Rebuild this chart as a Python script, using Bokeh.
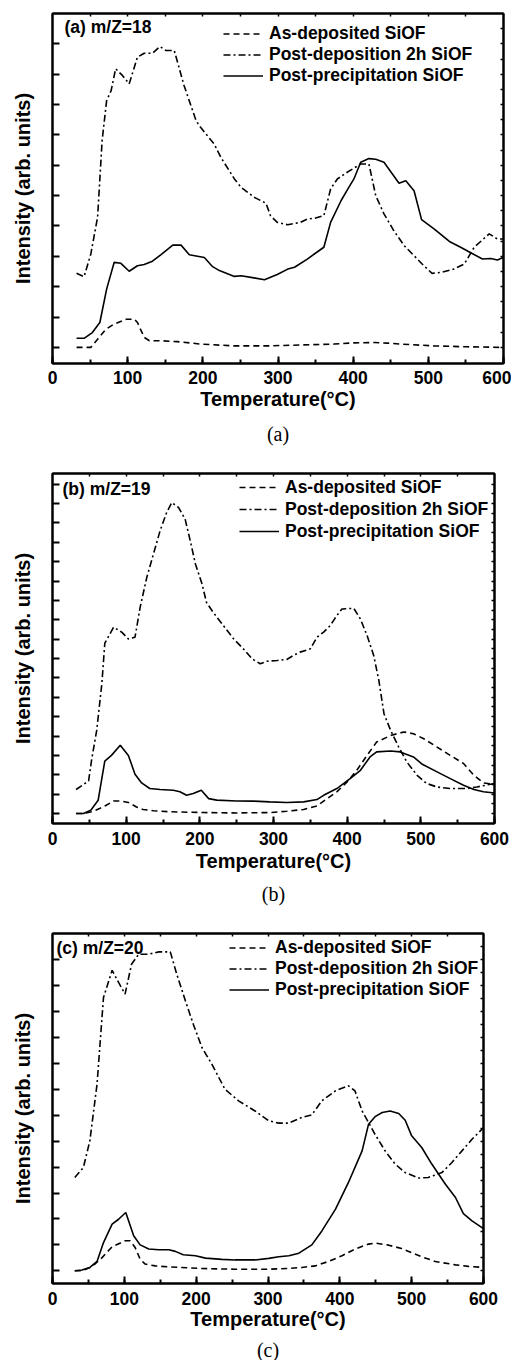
import math
from bokeh.plotting import figure
from bokeh.models import Range1d, LinearAxis, SingleIntervalTicker, FixedTicker, Legend, LegendItem, Label, Title
from bokeh.layouts import column
from bokeh.embed import file_html
from bokeh.resources import INLINE

# ---------------- data ----------------
X_TICK_INTERVAL = 100
LEGEND_LABELS = ["As-deposited SiOF", "Post-deposition 2h SiOF", "Post-precipitation SiOF"]
PANEL_TAGS = ["(a) m/Z=18", "(b) m/Z=19", "(c) m/Z=20"]
CAPTIONS = ["(a)", "(b)", "(c)"]
X_LABEL = "Temperature(°C)"
Y_LABEL = "Intensity (arb. units)"

# panel (a) m/Z=18
a_dep_T = [32, 51, 60, 71, 82, 98, 109, 113, 122, 129, 144, 166, 197, 242, 286, 330, 375, 401, 428, 446, 463, 508, 552, 600]
a_dep_I = [0, 0, 0.27, 0.6, 0.77, 0.93, 0.93, 0.82, 0.33, 0.22, 0.22, 0.19, 0.11, 0.05, 0.05, 0.08, 0.11, 0.15, 0.16, 0.14, 0.11, 0.05, 0.02, 0]
a_post_T = [32, 42, 51, 60, 66, 72, 78, 84, 93, 102, 113, 122, 133, 143, 151, 162, 175, 191, 197, 215, 224, 242, 251, 268, 284, 290, 299, 313, 330, 339, 350, 361, 370, 379, 392, 410, 421, 430, 441, 454, 468, 481, 494, 505, 517, 534, 548, 561, 581, 592, 600]
a_post_I = [2.44, 2.33, 3.08, 4.29, 6.81, 8.13, 8.46, 9.18, 8.96, 8.68, 9.56, 9.69, 9.69, 9.91, 9.78, 9.78, 8.63, 7.47, 7.25, 6.70, 6.26, 5.55, 5.27, 4.95, 4.75, 4.34, 4.12, 4.04, 4.12, 4.23, 4.26, 4.34, 5.22, 5.55, 5.77, 6.04, 6.04, 5.00, 4.40, 3.85, 3.35, 3.02, 2.69, 2.44, 2.47, 2.58, 2.75, 3.30, 3.74, 3.57, 3.57]
a_prec_T = [32, 42, 53, 63, 72, 82, 91, 102, 113, 122, 133, 144, 160, 171, 182, 202, 213, 222, 242, 251, 268, 282, 299, 313, 322, 339, 353, 361, 370, 384, 393, 401, 410, 421, 430, 441, 461, 470, 481, 491, 508, 528, 543, 557, 572, 583, 592, 600]
a_prec_I = [0.30, 0.30, 0.49, 0.82, 1.92, 2.80, 2.77, 2.51, 2.69, 2.73, 2.84, 3.05, 3.37, 3.37, 3.05, 2.96, 2.66, 2.53, 2.34, 2.36, 2.29, 2.23, 2.40, 2.58, 2.64, 2.91, 3.16, 3.30, 4.12, 4.84, 5.22, 5.55, 6.10, 6.22, 6.20, 6.10, 5.41, 5.49, 5.16, 4.21, 3.90, 3.49, 3.30, 3.11, 2.91, 2.93, 2.88, 2.97]

# panel (b) m/Z=19
b_dep_T = [32, 42, 53, 64, 73, 83, 92, 103, 114, 123, 137, 160, 205, 250, 295, 318, 341, 359, 373, 386, 400, 413, 427, 440, 459, 477, 490, 504, 522, 540, 558, 572, 585, 600]
b_dep_I = [0, 0, 0.09, 0.26, 0.43, 0.65, 0.65, 0.57, 0.34, 0.21, 0.14, 0.09, 0.05, 0.03, 0.05, 0.12, 0.21, 0.39, 0.77, 1.12, 1.63, 2.23, 3.00, 3.69, 4.03, 4.21, 4.12, 3.86, 3.43, 3.00, 2.58, 1.97, 1.58, 1.51]
b_post_T = [32, 49, 53, 60, 67, 71, 83, 94, 103, 112, 119, 128, 137, 146, 155, 162, 171, 180, 187, 194, 203, 209, 218, 232, 246, 259, 271, 282, 291, 305, 318, 327, 336, 350, 359, 368, 377, 386, 393, 409, 418, 427, 436, 443, 450, 459, 470, 481, 495, 508, 522, 540, 563, 576, 600]
b_post_I = [1.24, 1.68, 2.75, 4.29, 6.70, 8.79, 9.62, 9.36, 9.01, 9.10, 10.65, 12.19, 13.39, 14.59, 15.54, 16.05, 15.80, 15.20, 14.08, 12.88, 11.85, 10.90, 10.39, 9.70, 9.01, 8.50, 7.98, 7.73, 7.86, 7.90, 7.95, 8.16, 8.33, 8.50, 9.10, 9.36, 9.70, 10.22, 10.56, 10.59, 10.04, 9.19, 8.16, 6.87, 5.15, 4.29, 3.43, 2.66, 1.97, 1.55, 1.37, 1.29, 1.29, 1.37, 1.55]
b_prec_T = [32, 42, 52, 62, 71, 80, 92, 103, 112, 121, 132, 146, 164, 173, 182, 191, 202, 212, 223, 250, 273, 295, 318, 341, 359, 368, 386, 404, 418, 431, 440, 459, 472, 490, 502, 522, 540, 558, 572, 585, 600]
b_prec_I = [0, 0, 0.17, 0.69, 2.71, 3.00, 3.52, 3.00, 2.03, 1.58, 1.29, 1.24, 1.20, 1.12, 0.94, 1.03, 1.20, 0.77, 0.69, 0.65, 0.64, 0.60, 0.57, 0.60, 0.72, 0.94, 1.29, 1.80, 2.23, 2.92, 3.18, 3.23, 3.18, 2.92, 2.54, 2.15, 1.80, 1.46, 1.24, 1.12, 1.06]

# panel (c) m/Z=20
c_dep_T = [31, 41, 52, 59, 69, 83, 101, 108, 115, 122, 129, 143, 162, 208, 254, 301, 329, 347, 366, 384, 403, 421, 440, 449, 468, 486, 514, 533, 561, 579, 600]
c_dep_I = [0, 0, 0.13, 0.26, 0.51, 0.93, 1.16, 1.16, 0.90, 0.45, 0.26, 0.19, 0.15, 0.09, 0.06, 0.06, 0.09, 0.13, 0.19, 0.36, 0.58, 0.84, 1.03, 1.07, 0.99, 0.86, 0.54, 0.36, 0.23, 0.17, 0.13]
c_post_T = [31, 43, 52, 62, 71, 83, 92, 101, 110, 120, 134, 148, 164, 173, 185, 196, 208, 222, 240, 259, 282, 301, 315, 329, 347, 361, 375, 394, 412, 421, 431, 440, 449, 463, 477, 491, 510, 523, 542, 556, 570, 584, 598]
c_post_I = [3.60, 3.99, 5.02, 7.20, 10.55, 11.60, 11.13, 10.68, 11.83, 12.22, 12.22, 12.31, 12.31, 11.45, 10.42, 9.52, 8.62, 7.97, 7.01, 6.56, 6.17, 5.79, 5.70, 5.70, 5.92, 6.02, 6.56, 6.95, 7.14, 6.95, 6.17, 5.72, 5.27, 4.63, 4.12, 3.79, 3.58, 3.60, 3.79, 4.18, 4.63, 5.08, 5.47]
c_prec_T = [31, 41, 52, 62, 71, 83, 92, 102, 113, 122, 134, 148, 162, 171, 182, 199, 213, 236, 254, 282, 301, 315, 329, 343, 361, 375, 394, 412, 431, 440, 449, 459, 470, 482, 491, 500, 514, 528, 547, 561, 572, 584, 600]
c_prec_I = [0, 0.03, 0.13, 0.36, 1.09, 1.80, 1.99, 2.25, 1.35, 1.00, 0.84, 0.81, 0.81, 0.75, 0.62, 0.58, 0.49, 0.44, 0.42, 0.42, 0.48, 0.54, 0.58, 0.68, 1.00, 1.54, 2.38, 3.41, 4.63, 5.66, 5.95, 6.11, 6.17, 6.07, 5.81, 5.21, 4.76, 4.12, 3.34, 2.83, 2.21, 1.93, 1.63]

Y_RANGES = [(-0.53, 11.0), (-0.515, 17.55), (-0.49, 13.02)]

# ---------------- styling ----------------
SANS = "Liberation Sans"
SERIF = "Liberation Serif"
DASHES = ["6 4", "7 3 2 3", "solid"]

GEOMS = [
    dict(bl=52, fw=451, bt=13, fh=350, bb=97, br=8, tick_sd=7, lab_sd=1, cap_sd=17,
         leg_x=171, leg_top=10, leg_row=21, tag_dx=12, tag_dy=13),
    dict(bl=49, fw=442, bt=13, fh=350, bb=97, br=20, tick_sd=8, lab_sd=2, cap_sd=12,
         leg_x=187, leg_top=3, leg_row=22, tag_dx=10, tag_dy=15),
    dict(bl=51, fw=431, bt=13, fh=350, bb=76, br=29, tick_sd=8, lab_sd=0, cap_sd=9,
         leg_x=177, leg_top=4, leg_row=21, tag_dx=4, tag_dy=14),
]


def tick_axis(ticks, length, width):
    """Axis drawing only short inward tick marks (as minor ticks, hence no labels)."""
    ax = LinearAxis(ticker=FixedTicker(ticks=[], minor_ticks=ticks))
    ax.axis_line_width = 2
    ax.major_tick_in = 0
    ax.major_tick_out = 0
    ax.minor_tick_in = length
    ax.minor_tick_out = 0
    ax.minor_tick_line_width = width
    ax.major_label_standoff = 0
    return ax


def make_panel(i, series):
    g = GEOMS[i]
    y0, y1 = Y_RANGES[i]
    p = figure(frame_width=g["fw"], frame_height=g["fh"], min_border_left=g["bl"],
               min_border_right=g["br"], min_border_top=g["bt"], min_border_bottom=g["bb"],
               x_range=Range1d(0, 600), y_range=Range1d(y0, y1),
               output_backend="svg", toolbar_location=None, x_axis_type=None, y_axis_type=None)
    p.grid.visible = False
    p.outline_line_color = "black"
    p.outline_line_width = 2
    p.background_fill_color = "white"
    p.border_fill_color = "white"

    # bottom axis
    xa = LinearAxis(ticker=SingleIntervalTicker(interval=X_TICK_INTERVAL, num_minor_ticks=2),
                    axis_label=X_LABEL)
    xa.axis_line_width = 2
    xa.major_tick_in = 7
    xa.major_tick_out = 0
    xa.minor_tick_in = 4
    xa.minor_tick_out = 0
    xa.major_tick_line_width = 2
    xa.minor_tick_line_width = 2
    xa.major_label_standoff = g["tick_sd"]
    xa.major_label_text_font = SANS
    xa.major_label_text_font_style = "bold"
    xa.major_label_text_font_size = "17.5px"
    xa.major_label_text_color = "black"
    xa.axis_label_standoff = g["lab_sd"]
    xa.axis_label_text_font = SANS
    xa.axis_label_text_font_style = "bold"
    xa.axis_label_text_font_size = "20px"
    xa.axis_label_text_color = "black"
    p.add_layout(xa, "below")

    n_major = int(math.floor(y1 - 0.05))
    # left axis: long inward ticks at every unit, axis title only
    ya = tick_axis(list(range(0, n_major + 1)), 7, 2)
    ya.axis_label = Y_LABEL
    ya.axis_label_standoff = 19
    ya.axis_label_text_font = SANS
    ya.axis_label_text_font_style = "bold"
    ya.axis_label_text_font_size = "20px"
    ya.axis_label_text_color = "black"
    p.add_layout(ya, "left")

    # right axis: short inward ticks every half unit
    halves = [k * 0.5 for k in range(0, 2 * n_major + 2) if k * 0.5 < y1 - 0.05]
    p.add_layout(tick_axis(halves, 3, 1.5), "right")

    # top axis: short inward ticks every 50 degrees
    p.add_layout(tick_axis(list(range(50, 600, 50)), 3, 1.5), "above")

    rends = []
    for (T, I), dash in zip(series, DASHES):
        r = p.line(T, I, line_color="black", line_width=1.6, line_dash=dash)
        rends.append(r)

    leg_h = len(LEGEND_LABELS) * g["leg_row"]
    legend = Legend(items=[LegendItem(label=lab, renderers=[r]) for lab, r in zip(LEGEND_LABELS, rends)],
                    location=(g["leg_x"], g["fh"] - g["leg_top"] - leg_h),
                    glyph_width=40, glyph_height=g["leg_row"], label_height=g["leg_row"],
                    label_standoff=6, padding=0, spacing=0, margin=0,
                    border_line_alpha=0, background_fill_alpha=0,
                    label_text_font=SANS, label_text_font_style="bold",
                    label_text_font_size="17.5px", label_text_color="black")
    p.add_layout(legend)

    # panel tag, placed by pixel offsets converted to data units
    tx = g["tag_dx"] / g["fw"] * 600
    ty = y1 - g["tag_dy"] / g["fh"] * (y1 - y0)
    p.add_layout(Label(x=tx, y=ty, text=PANEL_TAGS[i], text_font=SANS, text_font_style="bold",
                       text_font_size="17.5px", text_baseline="middle", text_align="left",
                       text_color="black"))

    cap = Title(text=CAPTIONS[i], align="center", text_font=SERIF, text_font_style="normal",
                text_font_size="20px", text_color="black", standoff=g["cap_sd"])
    p.add_layout(cap, "below")
    return p


pa = make_panel(0, [(a_dep_T, a_dep_I), (a_post_T, a_post_I), (a_prec_T, a_prec_I)])
pb = make_panel(1, [(b_dep_T, b_dep_I), (b_post_T, b_post_I), (b_prec_T, b_prec_I)])
pc = make_panel(2, [(c_dep_T, c_dep_I), (c_post_T, c_post_I), (c_prec_T, c_prec_I)])

layout = column(pa, pb, pc)
open("out.html", "w").write(file_html(layout, INLINE))
